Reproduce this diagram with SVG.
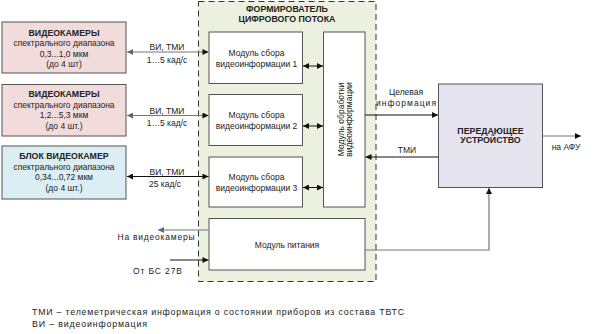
<svg xmlns="http://www.w3.org/2000/svg" width="595" height="334" viewBox="0 0 595 334">
<defs>
<marker id="ahk" viewBox="0 0 10 10" refX="10" refY="5" markerWidth="8" markerHeight="6" markerUnits="userSpaceOnUse" orient="auto-start-reverse"><path d="M0,0 L10,5 L0,10 z" fill="#111"/></marker>
<marker id="ahg" viewBox="0 0 10 10" refX="10" refY="5" markerWidth="8" markerHeight="6" markerUnits="userSpaceOnUse" orient="auto-start-reverse"><path d="M0,0 L10,5 L0,10 z" fill="#666"/></marker>
</defs>
<style>
text{font-family:"Liberation Sans",Arial,sans-serif;font-size:8.5px;fill:#222;text-anchor:middle}
.b{font-weight:bold;font-size:8.8px}
.l{text-anchor:start;font-size:8.8px}
.box{stroke:#555;stroke-width:1}
.g{stroke:#777;stroke-width:1.2;fill:none}
.k{stroke:#111;stroke-width:1;fill:none}
</style>
<rect width="595" height="334" fill="#fff"/>
<g id="cam1">
<rect class="box" x="2" y="22" width="124" height="51" fill="#F2DCDB"/>
<text class="b" x="64" y="35.5">ВИДЕОКАМЕРЫ</text>
<text x="64" y="46">спектрального диапазона</text>
<text x="64" y="56.5">0,3...1,0 мкм</text>
<text x="64" y="67">(до 4 шт)</text>
</g>
<g id="cam2">
<rect class="box" x="2" y="84.5" width="124" height="51.5" fill="#F2DCDB"/>
<text class="b" x="64" y="96.5">ВИДЕОКАМЕРЫ</text>
<text x="64" y="107.5">спектрального диапазона</text>
<text x="64" y="118">1,2...5,3 мкм</text>
<text x="64" y="129">(до 4 шт.)</text>
</g>
<g id="cam3">
<rect class="box" x="2" y="146" width="124" height="53" fill="#DAEEF3"/>
<text class="b" x="64" y="159">БЛОК ВИДЕОКАМЕР</text>
<text x="64" y="169.5">спектрального диапазона</text>
<text x="64" y="179.5">0,34...0,72 мкм</text>
<text x="64" y="190.5">(до 4 шт.)</text>
</g>
<g id="former">
<rect x="198.5" y="1.5" width="177.5" height="280" fill="#EBF1DE" stroke="#333" stroke-width="1" stroke-dasharray="6,4"/>
<text class="b" x="287" y="11.5">ФОРМИРОВАТЕЛЬ</text>
<text class="b" x="287" y="22">ЦИФРОВОГО ПОТОКА</text>
</g>
<g id="mod1">
<rect class="box" x="209" y="32" width="93.5" height="51.5" fill="#fff"/>
<text x="256.5" y="56">Модуль сбора</text>
<text x="256.5" y="66.5">видеоинформации 1</text>
</g>
<g id="mod2">
<rect class="box" x="209" y="94.5" width="93.5" height="51" fill="#fff"/>
<text x="256.5" y="118">Модуль сбора</text>
<text x="256.5" y="128.5">видеоинформации 2</text>
</g>
<g id="mod3">
<rect class="box" x="209" y="157" width="93.5" height="50" fill="#fff"/>
<text x="256.5" y="180">Модуль сбора</text>
<text x="256.5" y="190.5">видеоинформации 3</text>
</g>
<g id="proc">
<rect class="box" x="323.5" y="32" width="41.5" height="175" fill="#fff"/>
<text transform="translate(344,119.5) rotate(-90)" y="-0.5">Модуль обработки</text>
<text transform="translate(344,119.5) rotate(-90)" y="8">видеоинформации</text>
</g>
<g id="power">
<rect class="box" x="209" y="218.5" width="156" height="51.5" fill="#fff"/>
<text x="287" y="247.5">Модуль питания</text>
</g>
<g id="tx">
<rect class="box" x="438.5" y="84" width="104" height="103.5" fill="#E6E4EE"/>
<text class="b" x="490.5" y="133.5">ПЕРЕДАЮЩЕЕ</text>
<text class="b" x="490.5" y="143">УСТРОЙСТВО</text>
</g>
<g id="connectors">
<line class="g" x1="127" y1="52" x2="208.5" y2="52" marker-start="url(#ahg)" marker-end="url(#ahk)"/>
<line class="g" x1="127" y1="115.5" x2="208.5" y2="115.5" marker-start="url(#ahg)" marker-end="url(#ahk)"/>
<line class="k" x1="127" y1="176.5" x2="208.5" y2="176.5" marker-start="url(#ahk)" marker-end="url(#ahk)"/>
<text x="167" y="50">ВИ, ТМИ</text>
<text x="167" y="62.5">1…5 кад/с</text>
<text x="167" y="113.5">ВИ, ТМИ</text>
<text x="167" y="126">1…5 кад/с</text>
<text x="167" y="174.5">ВИ, ТМИ</text>
<text x="165" y="187">25 кад/с</text>
<line class="k" x1="303" y1="66" x2="323" y2="66" marker-start="url(#ahk)" marker-end="url(#ahk)"/>
<line class="k" x1="303" y1="126" x2="323" y2="126" marker-start="url(#ahk)" marker-end="url(#ahk)"/>
<line class="k" x1="303" y1="187.5" x2="323" y2="187.5" marker-start="url(#ahk)" marker-end="url(#ahk)"/>
<line class="k" x1="365" y1="115" x2="438" y2="115" marker-end="url(#ahk)"/>
<text x="406" y="95">Целевая</text>
<text x="406" y="106" textLength="60">информация</text>
<line class="k" x1="438" y1="157" x2="365.5" y2="157" marker-end="url(#ahk)"/>
<text x="407" y="152.5">ТМИ</text>
<line class="g" x1="542.5" y1="136" x2="581" y2="136" marker-end="url(#ahk)"/>
<text x="566" y="149.5">на АФУ</text>
<polyline class="g" points="365,250 489,250 489,188" marker-end="url(#ahk)"/>
<line class="g" x1="208.5" y1="230" x2="158" y2="230" marker-end="url(#ahg)"/>
<text x="156" y="239.5" textLength="77">На видеокамеры</text>
<line class="k" x1="170" y1="260" x2="208.5" y2="260" marker-end="url(#ahk)"/>
<text x="157.5" y="273.5" textLength="49">От БС 27В</text>
</g>
<g id="legend">
<text class="l" x="32" y="315" textLength="372">ТМИ – телеметрическая информация о состоянии приборов из состава ТВТС</text>
<text class="l" x="32" y="327" textLength="115">ВИ – видеоинформация</text>
</g>
</svg>
